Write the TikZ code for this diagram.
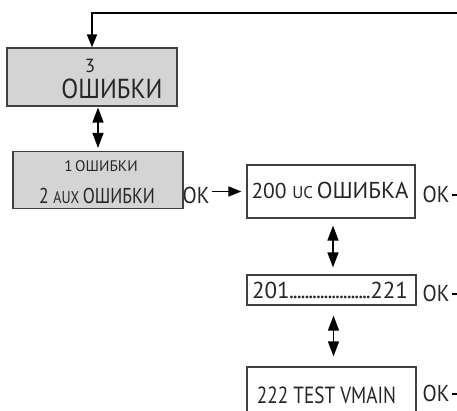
\documentclass[tikz,border=0pt]{standalone}
\usepackage{fontspec}
\setmainfont{PT Sans}
\newfontfamily\condfont{PT Sans}[FakeStretch=0.82]
\newfontfamily\semicondfont{PT Sans}[FakeStretch=0.9]
\usetikzlibrary{positioning,arrows.meta}

\begin{document}
\begin{tikzpicture}[
  x=1pt, y=-1pt, font=\fontsize{23}{24}\selectfont,
  menu/.style={draw=black!75, line width=1.2pt, inner sep=0pt},
  grey/.style={menu, fill=black!17},
  txt/.style={inner sep=0pt, anchor=base, text=black!85},
  oktxt/.style={txt, font=\semicondfont\fontsize{23}{24}\selectfont},
  ar/.style={-{Triangle[length=13pt,width=10pt]}, line width=1.5pt},
  dar/.style={{Triangle[length=15pt,width=11pt]}-{Triangle[length=15pt,width=11pt]}, line width=1.5pt},
]
\useasboundingbox (0,0) rectangle (457,410);
\clip (0,0) rectangle (457,410);
% --- left column ---
\node[grey, minimum width=170pt, minimum height=58pt] (err) at (92,77) {};
\node[txt, font=\fontsize{19}{20}\selectfont] (errnum) at (90,72) {3};
\node[txt, font=\semicondfont\fontsize{27.5}{30}\selectfont] (errtxt) at (112,98) {ОШИБКИ};
\node[grey, minimum width=170pt, minimum height=57pt] (sel) at (98,180) {};
\node[txt, font=\fontsize{15.3}{16}\selectfont] (selone) at (101,171) {1\,ОШИБКИ};
\node[txt, font=\condfont\fontsize{21.5}{22}\selectfont] (seltwo) at (97,203) {2 {\fontsize{17}{18}\selectfont AUX}\,ОШИБКИ};
\node[oktxt] (okl) at (196,203) {OK};
% --- right column ---
\node[menu, minimum width=168pt, minimum height=53pt] (uc) at (331,191.5) {};
\node[txt, font=\fontsize{21.5}{22}\selectfont] (uctxt) at (330,198) {200 {\fontsize{17}{18}\selectfont UC}\,{\fontsize{23}{24}\selectfont ОШИБКА}};
\node[menu, minimum width=169pt, minimum height=30pt] (rng) at (331.5,290) {};
\node[txt] (rngtxt) at (330,298) {\hbox to 156pt{201\xleaders\hbox to 3.7pt{\hss.\hss}\hfill 221}};
\node[menu, minimum width=169pt, minimum height=50pt] (vm) at (331.5,392) {};
\node[txt, font=\condfont\fontsize{23.4}{24}\selectfont] (vmtxt) at (326.5,403) {222 TEST VMAIN};
\node[oktxt] (okuc) at (436,202) {OK};
\node[oktxt] (okrng) at (436,301) {OK};
\node[oktxt] (okvm) at (436,401) {OK};
\coordinate (back) at (457,13);
\coordinate (euc) at (457,195);
\coordinate (erng) at (457,294);
\coordinate (evm) at (457,394);
% --- connectors ---
\draw[ar] (back) -| (err.north);
\draw[dar, shorten <=1pt, shorten >=3pt] (sel.north |- err.south) -- (sel.north);
\draw[ar, shorten <=2pt, shorten >=5pt] (okl.east |- uc.west) -- (uc.west);
\draw[dar, shorten <=7pt, shorten >=7pt] ([xshift=2pt]uc.south) -- ([xshift=2pt]uc.south |- rng.north);
\draw[dar, shorten <=10pt, shorten >=10pt] ([xshift=2pt]rng.south) -- ([xshift=2pt]rng.south |- vm.north);
\draw[line width=1.2pt, shorten <=2pt] (okuc.east |- euc) -- (euc);
\draw[line width=1.2pt, shorten <=2pt] (okrng.east |- erng) -- (erng);
\draw[line width=1.2pt, shorten <=2pt] (okvm.east |- evm) -- (evm);
\end{tikzpicture}
\end{document}
